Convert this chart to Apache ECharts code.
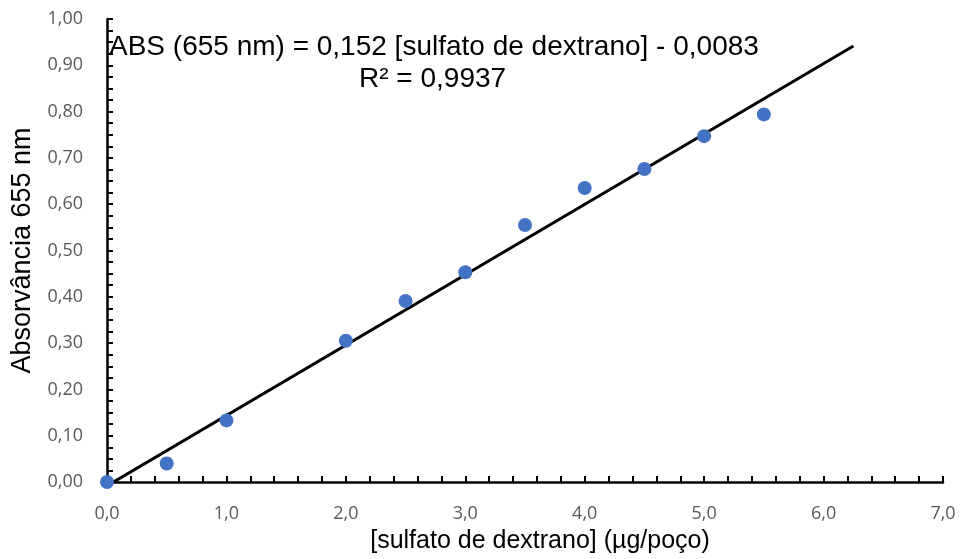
<!DOCTYPE html>
<html>
<head>
<meta charset="utf-8">
<script src="https://cdn.jsdelivr.net/npm/echarts@6/dist/echarts.min.js"></script>
<style>
  html, body { margin: 0; padding: 0; background: #fff; }
  #chart { width: 965px; height: 559px; }
</style>
</head>
<body>
<div id="chart"></div>
<script>
// Dextran sulfate standard curve (absorbance at 655 nm)
const concentrations = [0.0, 0.5, 1.0, 2.0, 2.5, 3.0, 3.5, 4.0, 4.5, 5.0, 5.5];
const absorbances = [0.000, 0.040, 0.133, 0.305, 0.391, 0.453, 0.555, 0.635, 0.676, 0.747, 0.794];

// Linear regression reported for the curve
const slope = 0.152;
const intercept = -0.0083;
const rSquared = '0,9937';
const trendStart = 0.0;
const trendEnd = 6.25;

const xTicks = ['0,0', '1,0', '2,0', '3,0', '4,0', '5,0', '6,0', '7,0'];
const yTicks = ['0,00', '0,10', '0,20', '0,30', '0,40', '0,50', '0,60', '0,70', '0,80', '0,90', '1,00'];

const fmt = (v, d) => v.toFixed(d).replace('.', ',');

const scatterData = concentrations.map((c, i) => [c, absorbances[i]]);
const trendData = [trendStart, trendEnd].map(x => [x, slope * x + intercept]);

const chart = echarts.init(document.getElementById('chart'), null, { renderer: 'canvas' });

const labelFont = "'Open Sans', 'Liberation Sans', sans-serif";
const titleFont = "'Liberation Sans', Arial, sans-serif";

chart.setOption({
  animation: false,
  backgroundColor: '#ffffff',
  grid: { left: 107, right: 22, top: 19, bottom: 76, containLabel: false },
  xAxis: {
    type: 'value',
    min: 0, max: 7, interval: 1,
    name: '[sulfato de dextrano] (µg/poço)',
    nameLocation: 'middle',
    nameGap: 47,
    nameTextStyle: { fontFamily: titleFont, fontSize: 25, color: '#000', padding: [0, 0, 0, 30] },
    axisLine: { show: true, onZero: false, lineStyle: { color: '#000', width: 2.5 } },
    axisTick: { show: true, inside: true, length: 6, lineStyle: { color: '#000', width: 2 } },
    minorTick: { show: true, splitNumber: 5, length: 6, lineStyle: { color: '#000', width: 2 } },
    splitLine: { show: false },
    axisLabel: {
      margin: 23,
      fontFamily: labelFont, fontSize: 18, color: '#595959',
      formatter: (v) => xTicks[Math.round(v)]
    }
  },
  yAxis: {
    type: 'value',
    min: 0, max: 1, interval: 0.1,
    name: 'Absorvância 655 nm',
    nameLocation: 'middle',
    nameGap: 71,
    nameRotate: 90,
    nameTextStyle: { fontFamily: titleFont, fontSize: 27, color: '#000' },
    axisLine: { show: true, lineStyle: { color: '#000', width: 2.5 } },
    axisTick: { show: true, inside: true, length: 6, lineStyle: { color: '#000', width: 2 } },
    minorTick: { show: true, splitNumber: 4, length: 6, lineStyle: { color: '#000', width: 2 } },
    splitLine: { show: false },
    axisLabel: {
      margin: 24,
      fontFamily: labelFont, fontSize: 18, color: '#595959',
      formatter: (v) => yTicks[Math.round(v * 10)]
    }
  },
  series: [
    {
      name: 'Regressão linear',
      type: 'line',
      data: trendData,
      showSymbol: false,
      symbol: 'none',
      clip: true,
      lineStyle: { color: '#000', width: 3 },
      z: 3
    },
    {
      name: 'Absorvância',
      type: 'scatter',
      data: scatterData,
      symbol: 'circle',
      symbolSize: 14,
      itemStyle: { color: '#4472C4', opacity: 1 },
      clip: false,
      z: 4
    }
  ],
  graphic: [
    {
      type: 'text',
      left: 109, top: 33,
      style: {
        text: 'ABS (655 nm) = ' + fmt(slope, 3) + ' [sulfato de dextrano] - ' + fmt(-intercept, 4),
        font: '28px ' + titleFont,
        fill: '#000'
      },
      z: 10
    },
    {
      type: 'text',
      left: 359, top: 65,
      style: {
        text: 'R² = ' + rSquared,
        font: '28px ' + titleFont,
        fill: '#000'
      },
      z: 10
    }
  ]
});
</script>
</body>
</html>
